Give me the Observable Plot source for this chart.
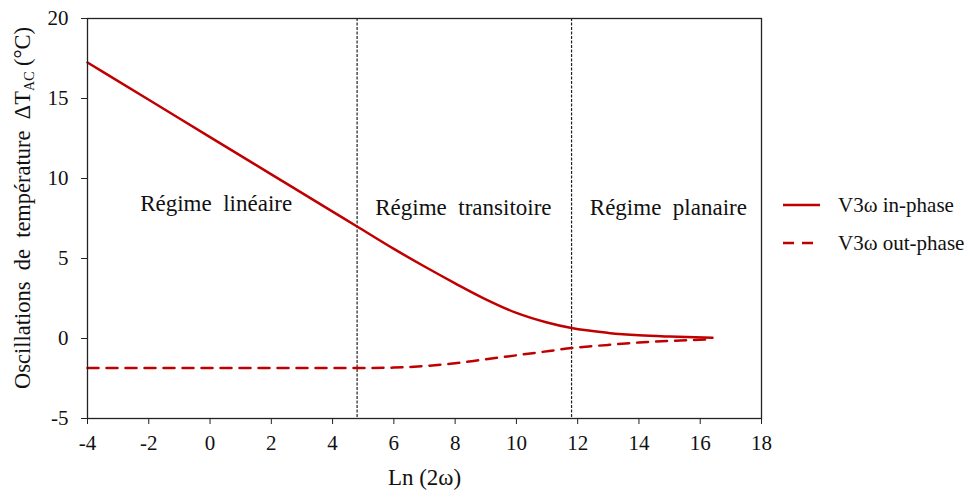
<!DOCTYPE html>
<html><head><meta charset="utf-8">
<script src="https://cdn.jsdelivr.net/npm/d3@7"></script>
<script src="https://cdn.jsdelivr.net/npm/@observablehq/plot@0.6"></script>
<style>
body{margin:0;background:#fff;font-family:"Liberation Serif","Times New Roman",serif;}
#wrap{position:relative;width:971px;height:498px;}
#legend{position:absolute;left:780px;top:190px;}
</style></head>
<body><div id="wrap"></div>
<script>
const xIn  = [-4, -2, 0, 2, 4, 4.8, 6, 7, 8, 9, 10, 11, 11.8, 13, 14, 15, 16.4];
const yIn  = [17.25, 14.92, 12.59, 10.26, 7.93, 7.0, 5.6, 4.5, 3.45, 2.45, 1.6, 1.0, 0.65, 0.35, 0.2, 0.12, 0.05];
const xOut = [-4, -2, 0, 2, 4, 4.8, 6, 7, 8, 9, 10, 11, 11.8, 13, 14, 15, 16.4];
const yOut = [-1.85, -1.85, -1.85, -1.85, -1.85, -1.85, -1.82, -1.72, -1.55, -1.3, -1.05, -0.8, -0.6, -0.4, -0.25, -0.15, -0.05];
const regimeBounds = [4.8, 11.8];
const regimeLabels = ["Régime  linéaire", "Régime  transitoire", "Régime  planaire"];
const regimeX = [0.2, 8.27, 14.96];
const regimeY = [8.4, 8.2, 8.2];
const seriesNames = ["V3ω in-phase", "V3ω out-phase"];
const xTicks = [-4, -2, 0, 2, 4, 6, 8, 10, 12, 14, 16, 18];
const yTicks = [-5, 0, 5, 10, 15, 20];
const xTitle = "Ln (2ω)";
const yTitle = ["Oscillations  de  température  ΔT", "AC", " (°C)"];

const inData = xIn.map((x, i) => ({x, y: yIn[i]}));
const outData = xOut.map((x, i) => ({x, y: yOut[i]}));
const labels = regimeLabels.map((t, i) => ({t, x: regimeX[i], y: regimeY[i]}));
const RED = "#c00000";
const FONT = "'Liberation Serif','Times New Roman',serif";

const chart = Plot.plot({
  width: 971, height: 498,
  marginLeft: 87, marginRight: 210, marginTop: 18, marginBottom: 80,
  style: {fontFamily: FONT, fontSize: "21px", color: "#111", background: "#fff"},
  x: {domain: [-4, 18], label: null},
  y: {domain: [-5, 20], label: null},
  marks: [
    Plot.ruleX(regimeBounds, {stroke: "#222", strokeWidth: 1.2, strokeDasharray: "3,1.5"}),
    Plot.line(inData, {x: "x", y: "y", stroke: RED, strokeWidth: 2.5, curve: "monotone-x"}),
    Plot.line(outData, {x: "x", y: "y", stroke: RED, strokeWidth: 2.5, strokeDasharray: "11,8", curve: "monotone-x"}),
    Plot.text(labels, {x: "x", y: "y", text: "t", fontSize: 23, fill: "#111"}),
    Plot.frame({stroke: "#222", strokeWidth: 1.3}),
    Plot.axisX({ticks: xTicks, tickSize: 6, tickPadding: 11, fontSize: 21, label: null, tickFormat: d => String(d), stroke: "#222"}),
    Plot.axisY({ticks: yTicks, tickSize: 6, tickPadding: 13, fontSize: 21, label: null, tickFormat: d => String(d), stroke: "#222"}),
    Plot.text([xTitle], {frameAnchor: "bottom", dy: 66, fontSize: 23, fill: "#111"})
  ]
});

// y title with subscript
const svg = d3.select(chart);
const yt = svg.append("text")
  .attr("transform", "translate(22,208) rotate(-90)")
  .attr("text-anchor", "middle").attr("dy", "0.35em")
  .attr("font-family", FONT).attr("font-size", 22.5).attr("fill", "#111")
  .style("white-space", "pre");
yt.append("tspan").text(yTitle[0]);
yt.append("tspan").attr("font-size", 14).attr("dy", 4).text(yTitle[1]);
yt.append("tspan").attr("dy", -4).text(yTitle[2]);

document.getElementById("wrap").appendChild(chart);

// legend
const leg = document.createElement("div");
leg.id = "legend";
const lsvg = d3.create("svg").attr("width", 191).attr("height", 70)
  .style("font-family", FONT).style("font-size", "21px");
seriesNames.forEach((name, i) => {
  const g = lsvg.append("g").attr("transform", `translate(0,${15 + i * 38})`);
  g.append("line").attr("x1", 3).attr("x2", 40).attr("y1", 0).attr("y2", 0)
    .attr("stroke", RED).attr("stroke-width", 2.5)
    .attr("stroke-dasharray", i === 1 ? "11,8" : null);
  g.append("text").attr("x", 58).attr("y", 0).attr("dy", "0.35em").attr("fill", "#111").text(name);
});
leg.appendChild(lsvg.node());
document.getElementById("wrap").appendChild(leg);
</script></body></html>
